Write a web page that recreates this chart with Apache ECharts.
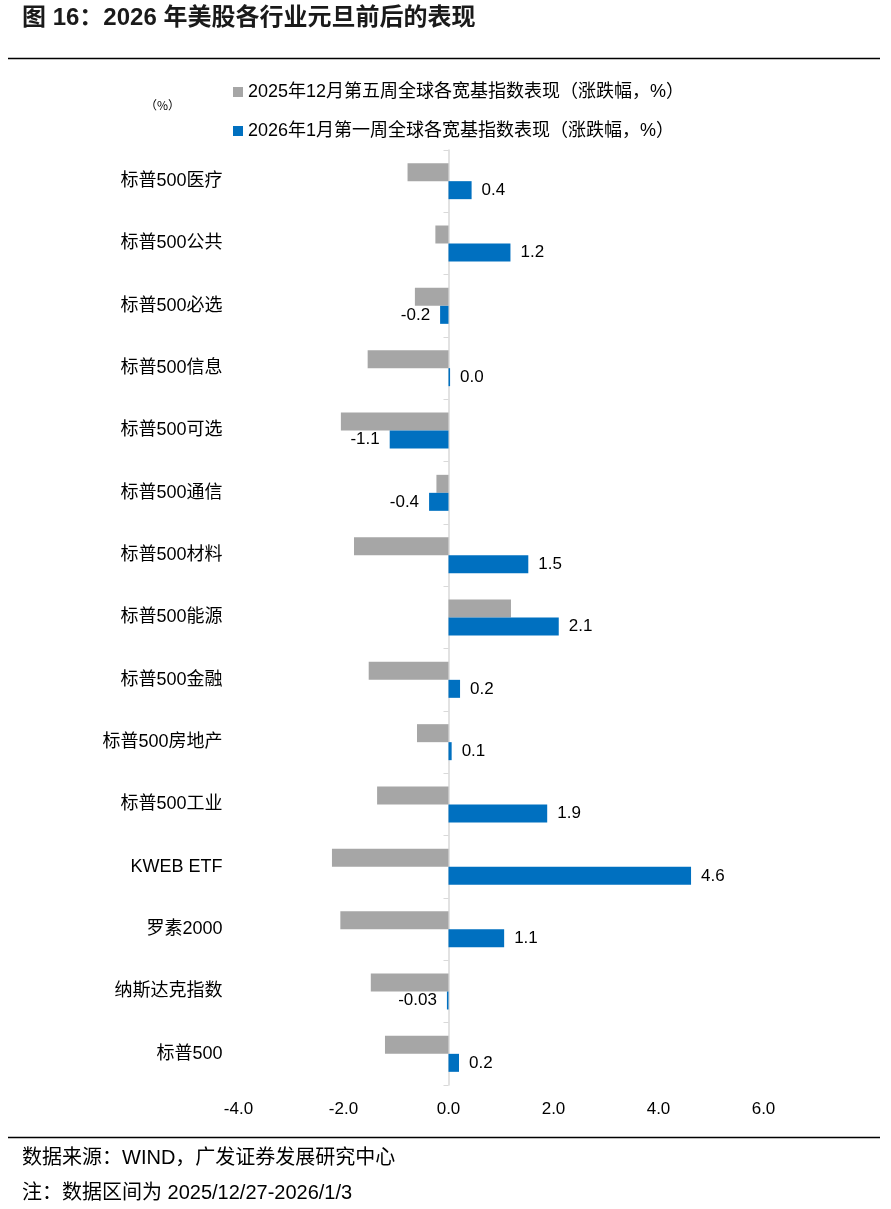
<!DOCTYPE html>
<html>
<head>
<meta charset="utf-8">
<script src="https://cdn.jsdelivr.net/npm/echarts@6/dist/echarts.min.js"></script>
<style>
html,body{margin:0;padding:0;background:#fff;}
#chart{width:891px;height:1209px;}
</style>
</head>
<body>
<div id="chart"></div>
<script>
var categories = ['标普500医疗','标普500公共','标普500必选','标普500信息','标普500可选','标普500通信','标普500材料','标普500能源','标普500金融','标普500房地产','标普500工业','KWEB ETF','罗素2000','纳斯达克指数','标普500'];
var seriesNames = ['2025年12月第五周全球各宽基指数表现（涨跌幅，%）','2026年1月第一周全球各宽基指数表现（涨跌幅，%）'];
var grayValues = [-0.78, -0.25, -0.64, -1.54, -2.05, -0.23, -1.80, 1.19, -1.52, -0.60, -1.36, -2.22, -2.06, -1.48, -1.21];
var blueValues = [0.44, 1.18, -0.16, 0.03, -1.12, -0.37, 1.52, 2.10, 0.22, 0.06, 1.88, 4.62, 1.06, -0.03, 0.20];
var blueLabels = ['0.4','1.2','-0.2','0.0','-1.1','-0.4','1.5','2.1','0.2','0.1','1.9','4.6','1.1','-0.03','0.2'];
var xTicks = {min: -4, max: 6, interval: 2};

var FONT = '"Liberation Sans", Arial, "Noto Sans CJK SC", sans-serif';
var CJK = '"Liberation Sans", "Noto Sans CJK SC", sans-serif';

var chart = echarts.init(document.getElementById('chart'), null, {renderer: 'canvas'});

var blueData = blueValues.map(function (v, i) {
  return {
    value: v,
    label: {
      show: true,
      position: v < 0 ? 'left' : 'right',
      distance: 10,
      formatter: blueLabels[i]
    }
  };
});

var option = {
  backgroundColor: '#ffffff',
  animation: false,
  textStyle: {fontFamily: FONT},
  grid: {left: 238.5, right: 127.5, top: 150, bottom: 124, containLabel: false, outerBoundsMode: 'none'},
  legend: {
    orient: 'vertical',
    left: 228,
    top: 78,
    itemWidth: 10,
    itemHeight: 10,
    itemGap: 21,
    icon: 'rect',
    textStyle: {fontSize: 18, color: '#000', fontFamily: CJK},
    data: seriesNames
  },
  xAxis: {
    type: 'value',
    min: xTicks.min,
    max: xTicks.max,
    interval: xTicks.interval,
    axisLine: {show: false},
    axisTick: {show: false},
    splitLine: {show: false},
    axisLabel: {
      margin: 16,
      fontSize: 17,
      color: '#000',
      fontFamily: FONT,
      formatter: function (v) { return v.toFixed(1); }
    }
  },
  yAxis: {
    type: 'category',
    inverse: true,
    data: categories,
    axisLine: {show: true, onZero: true, lineStyle: {color: '#d9d9d9', width: 1.5}},
    axisTick: {show: true, length: 5, lineStyle: {color: '#d9d9d9'}},
    axisLabel: {margin: 16, fontSize: 18, color: '#000', fontFamily: CJK},
    splitLine: {show: false}
  },
  series: [
    {
      name: seriesNames[0],
      type: 'bar',
      data: grayValues,
      barWidth: 18,
      barGap: '0%',
      itemStyle: {color: '#a6a6a6'},
      label: {show: false}
    },
    {
      name: seriesNames[1],
      type: 'bar',
      data: blueData,
      barWidth: 18,
      barGap: '0%',
      itemStyle: {color: '#0070c0'},
      label: {show: true, fontSize: 17, color: '#000', fontFamily: FONT}
    }
  ],
  graphic: [
    {type: 'text', left: 22, top: 6, style: {text: '图 16：2026 年美股各行业元旦前后的表现', font: 'bold 24px "Liberation Sans", "Noto Sans CJK SC", sans-serif', fill: '#1a1a1a'}},
    {type: 'line', shape: {x1: 8, y1: 58.5, x2: 880, y2: 58.5}, style: {stroke: '#000', lineWidth: 1.5}},
    {type: 'text', left: 145, top: 99, style: {text: '（%）', font: '12px "Noto Sans CJK SC", sans-serif', fill: '#000'}},
    {type: 'line', shape: {x1: 8, y1: 1137.5, x2: 880, y2: 1137.5}, style: {stroke: '#000', lineWidth: 1.5}},
    {type: 'text', left: 22, top: 1148, style: {text: '数据来源：WIND，广发证券发展研究中心', font: '20px "Liberation Sans", "Noto Sans CJK SC", sans-serif', fill: '#000'}},
    {type: 'text', left: 22, top: 1183, style: {text: '注：数据区间为 2025/12/27-2026/1/3', font: '20px "Liberation Sans", "Noto Sans CJK SC", sans-serif', fill: '#000'}}
  ]
};
chart.setOption(option);
</script>
</body>
</html>
